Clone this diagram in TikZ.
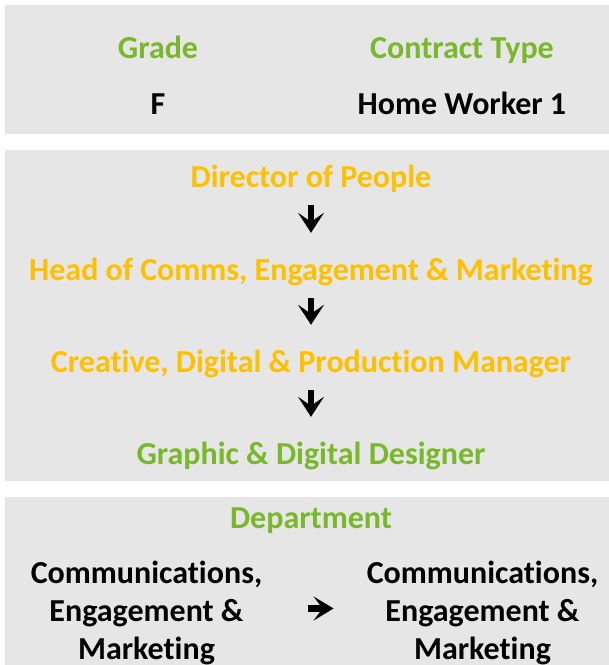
\documentclass[tikz,border=0pt]{standalone}
\usepackage{fontspec}
\setmainfont{Carlito}[Ligatures=NoCommon]
\usetikzlibrary{positioning,arrows.meta}

\definecolor{panelgrey}{HTML}{E7E6E6}
\definecolor{headgreen}{HTML}{78B82A}
\definecolor{roleorange}{HTML}{FFC000}

\begin{document}
\begin{tikzpicture}[
    x=1pt, y=-1pt,
    panel/.style={fill=panelgrey}, % grey boxes
    txt/.style={font=\bfseries\fontsize{32}{38}\selectfont, inner sep=0pt, anchor=base},
    oneline/.style={txt, text height=22pt, text depth=7pt},
    heading/.style={oneline, text=headgreen},
    role/.style={oneline, text=roleorange},
    value/.style={oneline, text=black},
    deptname/.style={txt, align=center, text=black},
    downarrow/.style={line width=6pt, -{Stealth[length=20pt,width=26pt,inset=9pt]},
                      shorten <=11pt, shorten >=25pt},
    sidearrow/.style={line width=6.5pt, -{Stealth[length=20pt,width=24pt,inset=9pt]},
                      shorten <=46pt, shorten >=33pt}
    ]

    \useasboundingbox (0,0) rectangle (609,665);

    % Panels
    \fill[panel] (5,5) rectangle (609,134);
    \fill[panel] (5,150) rectangle (609,481);
    \fill[panel] (5,497) rectangle (609,665);

    % Grade and contract
    \node[heading] (grade) at (158,58) {Grade};
    \node[heading] (contract) at (462,58) {Contract Type};
    \node[value] (gradeval) at (158,114) {F};
    \node[value] (contractval) at (462,114) {Home Worker 1};

    % Reporting line
    \node[role] (director) at (311,187) {Director of People};
    \node[role] (head) at (311,280) {Head of Comms, Engagement \& Marketing};
    \node[role] (manager) at (311,372) {Creative, Digital \& Production Manager};
    \node[heading] (designer) at (311,464) {Graphic \& Digital Designer};

    \draw[downarrow] (director) -- (head);
    \draw[downarrow] (head) -- (manager);
    \draw[downarrow] (manager) -- (designer);

    % Department
    \node[heading] (dept) at (311,528) {Department};
    \node[deptname] (olddept) at (146.5,659)
        {Communications,\\Engagement \&\\Marketing};
    \node[deptname] (newdept) at (482.5,659)
        {Communications,\\Engagement \&\\Marketing};

    \draw[sidearrow] ([yshift=4pt]olddept.east) -- ([yshift=4pt]newdept.west);

\end{tikzpicture}
\end{document}
